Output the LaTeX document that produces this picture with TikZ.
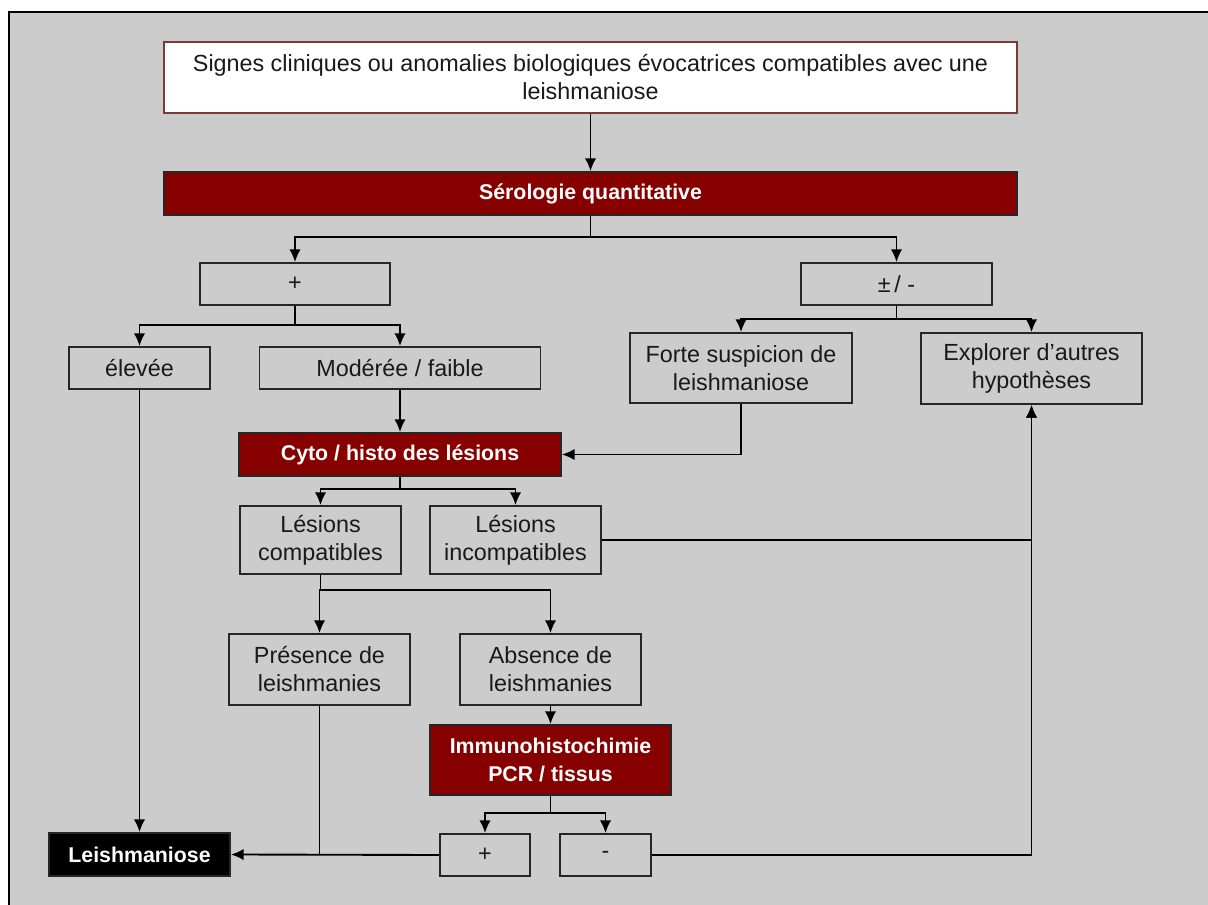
\documentclass[tikz,border=0pt]{standalone}
\usepackage{fontspec}
\setmainfont{Liberation Sans}
\usetikzlibrary{arrows.meta}
\definecolor{fond}{HTML}{CCCCCC}
\definecolor{bordeaux}{HTML}{870000}
\definecolor{liseret}{HTML}{7A3A3A}
\tikzset{
  boite/.style={draw=black!85, line width=1.4pt, align=center, inner sep=0pt,
    font=\fontsize{17.5}{21}\selectfont, text=black!90},
  rouge/.style={boite, fill=bordeaux, text=white, font=\fontsize{16}{21}\selectfont\bfseries},
  fleche/.style={line width=1.4pt, -{Latex[length=9.5pt,width=8.5pt]}},
  trait/.style={line width=1.4pt}
}
\begin{document}
\begin{tikzpicture}[x=0.75pt, y=-0.75pt]
\useasboundingbox (0,0) rectangle (1208,905);
\fill[white] (0,0) rectangle (1208,905);
\fill[fond] (9,12) rectangle (1208,905);
\draw[line width=1.4pt] (9,905) -- (9,12) -- (1208,12);
\node[boite, fill=white, draw=liseret, minimum width=853*0.75pt, minimum height=71*0.75pt] (signes) at (590.5,77.5)
  {Signes cliniques ou anomalies biologiques évocatrices compatibles avec une\\ leishmaniose};
\node[rouge, minimum width=853*0.75pt, minimum height=43*0.75pt] (sero) at (590.5,193.5) {Sérologie quantitative};
\node[boite, minimum width=190*0.75pt, minimum height=42*0.75pt] (plus) at (295,284) {+};
\node[boite, minimum width=191*0.75pt, minimum height=42*0.75pt] (pm) at (896.5,284) {±\,/ -};
\node[boite, minimum width=141*0.75pt, minimum height=42*0.75pt] (elevee) at (139.5,368) {élevée};
\node[boite, minimum width=281*0.75pt, minimum height=42*0.75pt] (moderee) at (400,368) {Modérée / faible};
\node[boite, minimum width=222*0.75pt, minimum height=70*0.75pt] (forte) at (741,368) {Forte suspicion de\\ leishmaniose};
\node[boite, minimum width=221*0.75pt, minimum height=71*0.75pt] (explorer) at (1031.5,368.5) {Explorer d’autres\\ hypothèses};
\node[rouge, minimum width=322*0.75pt, minimum height=43*0.75pt] (cyto) at (400,454.5) {Cyto / histo des lésions};
\node[boite, minimum width=161*0.75pt, minimum height=68*0.75pt] (compat) at (320.5,540) {Lésions\\ compatibles};
\node[boite, minimum width=171*0.75pt, minimum height=68*0.75pt] (incompat) at (515.5,540) {Lésions\\ incompatibles};
\node[boite, minimum width=181*0.75pt, minimum height=71*0.75pt] (presence) at (319.5,669.5) {Présence de\\ leishmanies};
\node[boite, minimum width=181*0.75pt, minimum height=71*0.75pt] (absence) at (550.5,669.5) {Absence de\\ leishmanies};
\node[rouge, minimum width=241*0.75pt, minimum height=70*0.75pt] (immuno) at (550.5,760) {Immunohistochimie\\ PCR / tissus};
\node[boite, minimum width=90*0.75pt, minimum height=42*0.75pt] (pos) at (485,855) {+};
\node[boite, minimum width=91*0.75pt, minimum height=42*0.75pt] (neg) at (605.5,855) {-};
\node[rouge, fill=black, minimum width=181*0.75pt, minimum height=43*0.75pt] (leish) at (139.5,854.5) {Leishmaniose};
\coordinate (j1) at (590.5,237);
\coordinate (j2) at (295,325);
\coordinate (j3) at (896.5,319);
\coordinate (j4) at (400,489);
\coordinate (j5) at (320.5,590);
\coordinate (j6) at (550.5,813);
\draw[fleche] (signes) -- (sero);
\draw[trait] (sero) -- (j1);
\draw[fleche] (j1) -| (plus);
\draw[fleche] (j1) -| (pm);
\draw[trait] (plus) -- (j2);
\draw[fleche] (j2) -| (elevee);
\draw[fleche] (j2) -| (moderee);
\draw[trait] (pm) -- (j3);
\draw[fleche] (j3) -| (forte);
\draw[fleche] (j3) -| (explorer);
\draw[fleche] (moderee) -- (cyto);
\draw[fleche] (forte.south) |- (cyto.east);
\draw[trait] (cyto) -- (j4);
\draw[fleche] (j4) -| (compat);
\draw[fleche] (j4) -| (incompat);
\draw[trait] (compat) -- (j5);
\draw[fleche] (j5) -| (presence);
\draw[fleche] (j5) -| (absence);
\draw[fleche] (absence) -- (immuno);
\draw[trait] (immuno) -- (j6);
\draw[fleche] (j6) -| (pos);
\draw[fleche] (j6) -| (neg);
\draw[fleche] (elevee) -- (leish);
\draw[fleche] (pos.west) -- (leish.east);
\draw[trait] (presence.south) -- (presence.south |- pos.west);
\draw[fleche] (neg.east) -| (explorer.south);
\draw[fleche] (incompat.east) -| (explorer.south);
\end{tikzpicture}
\end{document}
